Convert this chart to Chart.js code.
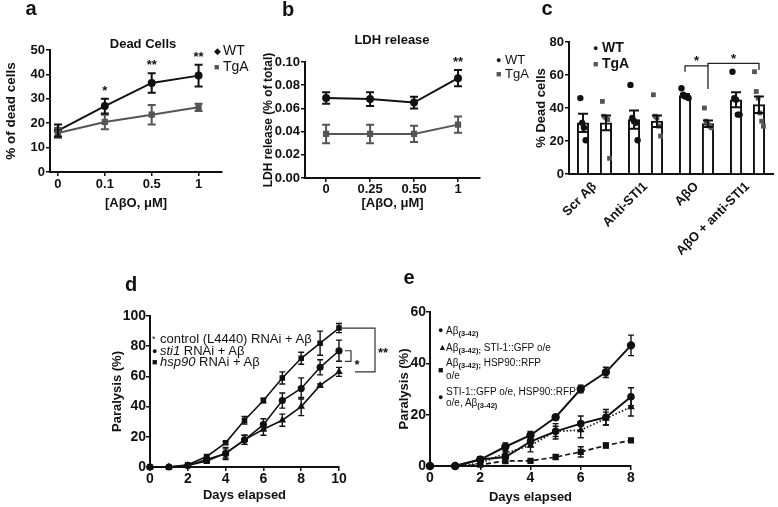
<!DOCTYPE html>
<html>
<head>
<meta charset="utf-8">
<script src="https://cdn.jsdelivr.net/npm/chart.js@4.4.1/dist/chart.umd.min.js"></script>
<style>
  body { margin: 0; background: #fff; }
  #fig { position: relative; width: 778px; height: 507px; overflow: hidden;
         font-family: "Liberation Sans", Arial, sans-serif; color: #111; }
  #fig canvas { position: absolute; }
  .t { position: absolute; white-space: nowrap; line-height: 1; }
  .letter { font-size: 20px; font-weight: bold; transform: translate(-50%, -50%); }
  .ttl { font-size: 13px; font-weight: bold; transform: translate(-50%, -50%); }
  .lg { transform: translateY(-50%); }
  .mk { display: inline-block; width: 9px; font-size: 9px; vertical-align: 1px; }
  sub { font-size: 7.5px; vertical-align: -2px; font-weight: bold; }
</style>
</head>
<body>
<div id="fig">
  <canvas id="chartA" width="245" height="215" style="left:0px;top:0px"></canvas>
  <canvas id="chartB" width="250" height="215" style="left:250px;top:0px"></canvas>
  <canvas id="chartC" width="273" height="280" style="left:505px;top:0px"></canvas>
  <canvas id="chartD" width="300" height="242" style="left:100px;top:265px"></canvas>
  <canvas id="chartE" width="275" height="242" style="left:385px;top:265px"></canvas>

  <div class="t letter" style="left:31px;top:8px">a</div>
  <div class="t letter" style="left:288px;top:8.5px">b</div>
  <div class="t letter" style="left:547px;top:8px">c</div>
  <div class="t letter" style="left:131px;top:283.5px">d</div>
  <div class="t letter" style="left:409px;top:277px">e</div>

  <div class="t ttl" style="left:143px;top:43px">Dead Cells</div>
  <div class="t ttl" style="left:392px;top:39px">LDH release</div>

  <!-- legends -->
  <div class="t lg" style="left:214px;top:50px;font-size:14px"><span class="mk">◆</span>WT</div>
  <div class="t lg" style="left:214px;top:66px;font-size:14px"><span class="mk" style="color:#555">■</span>TgA</div>
  <div class="t lg" style="left:496px;top:59px;font-size:13px"><span class="mk">●</span>WT</div>
  <div class="t lg" style="left:496px;top:73px;font-size:13px"><span class="mk" style="color:#555">■</span>TgA</div>
  <div class="t lg" style="left:593px;top:47px;font-size:14px;font-weight:bold"><span class="mk">●</span>WT</div>
  <div class="t lg" style="left:593px;top:63px;font-size:14px;font-weight:bold"><span class="mk" style="color:#555">■</span>TgA</div>

  <div class="t lg" style="left:152px;top:338px;font-size:13px"><span class="mk" style="width:8px">*</span>control (L4440) RNAi + Aβ</div>
  <div class="t lg" style="left:152px;top:350px;font-size:13px"><span class="mk" style="width:8px">●</span><i>sti1</i> RNAi + Aβ</div>
  <div class="t lg" style="left:152px;top:361px;font-size:13px"><span class="mk" style="width:8px">■</span><i>hsp90</i> RNAi + Aβ</div>

  <div class="t lg" style="left:438px;top:332px;font-size:10px"><span class="mk" style="width:8px">●</span>Aβ<sub>(3-42)</sub></div>
  <div class="t lg" style="left:438px;top:349px;font-size:10px"><span class="mk" style="width:8px">▲</span>Aβ<sub>(3-42);</sub> STI-1::GFP o/e</div>
  <div class="t lg" style="left:446px;top:364px;font-size:10px">Aβ<sub>(3-42);</sub> HSP90::RFP</div>
  <div class="t lg" style="left:446px;top:376px;font-size:10px">o/e</div>
  <div class="t lg" style="left:438px;top:371px;font-size:10px"><span class="mk" style="width:8px">■</span></div>
  <div class="t lg" style="left:446px;top:392px;font-size:10px">STI-1::GFP o/e, HSP90::RFP</div>
  <div class="t lg" style="left:446px;top:404px;font-size:10px">o/e, Aβ<sub>(3-42)</sub></div>
  <div class="t lg" style="left:438px;top:398px;font-size:10px"><span class="mk" style="width:8px">●</span></div>
</div>

<script>
// ---- panel a: dead cells ----
const doseLabelsA = ['0', '0.1', '0.5', '1'];
const deadWT = [17, 27, 36.5, 39.5];
const deadWTErr = [2.5, 3, 4, 4.5];
const deadTgA = [16, 20.5, 23.5, 26.5];
const deadTgAErr = [2, 3, 4, 1.5];
const deadStars = ['', '*', '**', '**'];

// ---- panel b: LDH release ----
const doseLabelsB = ['0', '0.25', '0.50', '1'];
const ldhWT = [0.069, 0.068, 0.065, 0.086];
const ldhWTErr = [0.005, 0.006, 0.005, 0.007];
const ldhTgA = [0.038, 0.038, 0.038, 0.046];
const ldhTgAErr = [0.008, 0.008, 0.007, 0.007];
const ldhStars = ['', '', '', '**'];

// ---- panel c: % dead cells per treatment ----
const groupsC = ['Scr Aβ', 'Anti-STI1', 'AβO', 'AβO + anti-STI1'];
const barWT = [31, 33, 47.5, 45];
const barWTErr = [5.5, 5.5, 1, 4.5];
const barTgA = [31, 32, 30.5, 42];
const barTgAErr = [4.5, 3.5, 2, 5];
const dotsWT = [[46, 31, 28, 20.5], [54, 34, 32, 31, 20.5], [52, 48, 47, 47, 46], [62, 46, 45, 36, 36]];
const dotsTgA = [[44, 35, 34, 33, 9.5], [48, 35, 34, 29, 23], [40, 32, 30, 29, 28], [62, 50, 46, 37, 32, 29]];
// significance brackets: bar = [dataset, group]
const sigC = [
  { from: [0, 2], to: [1, 2], y: 65.5, endFrom: 62, endTo: 51.5, label: '*' },
  { from: [1, 2], to: [1, 3], y: 67, endFrom: 65.5, endTo: 63, label: '*' }
];

// ---- panel d: paralysis with RNAi ----
const daysD = [0, 1, 2, 3, 4, 5, 6, 7, 8, 9, 10];
const controlRNAi = [0, 0, 1, 4, 9, 18, 25, 31, 40, 54, 63];
const controlRNAiErr = [0, 0, 0.5, 1.5, 3, 3, 4, 4, 6, 1, 3];
const sti1RNAi = [0, 0, 1, 5, 9, 18, 28, 44, 52, 66, 77];
const sti1RNAiErr = [0, 0, 0.5, 1.5, 4, 3, 4, 5, 7, 5, 7];
const hsp90RNAi = [0, 0, 1.5, 7, 16, 31, 44, 59, 72, 82, 92];
const hsp90RNAiErr = [0, 0, 0.5, 1, 1, 2.5, 1.5, 4, 4, 8, 3];
const sigD = [
  { top: 92, bottom: 63, label: '**', labelAt: 75 },
  { top: 77, bottom: 70, label: '*', labelAt: 67 }
];

// ---- panel e: paralysis with overexpression ----
const daysE = [0, 1, 2, 3, 4, 5, 6, 7, 8];
const abOnly = [0, 0, 2.5, 7.5, 12, 19, 30, 36.5, 47];
const abOnlyErr = [0, 0.5, 1, 1.5, 1.5, 1, 1.5, 2, 4];
const sti1OE = [0, 0, 1, 5, 8, 13.5, 14, 18.5, 23];
const sti1OEErr = [0, 0, 1, 2, 2.5, 2, 3, 2.5, 3.5];
const hsp90OE = [0, 0, 0.5, 2, 2, 3.5, 5.5, 8, 10];
const hsp90OEErr = [0, 0, 0.5, 1, 0.5, 1, 2, 1, 0.5];
const bothOE = [0, 0, 2.5, 3.5, 9.5, 13.5, 16.5, 19, 27];
const bothOEErr = [0, 0, 1, 2, 2, 3, 3, 3, 3.5];

const ink = '#111';
const grey = '#555';

Chart.defaults.font.family = '"Liberation Sans", Arial, sans-serif';
Chart.defaults.color = ink;
Chart.defaults.animation = false;
Chart.defaults.responsive = false;
Chart.defaults.plugins.legend.display = false;
Chart.defaults.plugins.tooltip.enabled = false;

// error bars + significance stars read from dataset.errors / dataset.stars
const errorBars = {
  id: 'errorBars',
  afterDatasetsDraw(chart) {
    const ctx = chart.ctx;
    chart.data.datasets.forEach((ds, i) => {
      if (!ds.errors) return;
      const meta = chart.getDatasetMeta(i);
      const yScale = chart.scales[meta.yAxisID];
      ctx.save();
      ctx.strokeStyle = ds.errorColor || ds.borderColor;
      ctx.lineWidth = ds.errorWidth || 1.5;
      meta.data.forEach((el, j) => {
        const err = ds.errors[j];
        const v = meta.controller.getParsed(j).y;
        const top = yScale.getPixelForValue(v + err);
        if (err) {
          const bot = yScale.getPixelForValue(v - err);
          const cap = ds.capWidth || 3;
          ctx.beginPath();
          ctx.moveTo(el.x, top); ctx.lineTo(el.x, bot);
          ctx.moveTo(el.x - cap, top); ctx.lineTo(el.x + cap, top);
          ctx.moveTo(el.x - cap, bot); ctx.lineTo(el.x + cap, bot);
          ctx.stroke();
        }
        if (ds.stars && ds.stars[j]) {
          ctx.fillStyle = ink;
          ctx.font = 'bold 13px "Liberation Sans", Arial, sans-serif';
          ctx.textAlign = 'center';
          ctx.textBaseline = 'bottom';
          ctx.fillText(ds.stars[j], el.x, top - 1);
        }
      });
      ctx.restore();
    });
  }
};

function fixWidth(w) { return scale => { scale.width = w; }; }
function fixHeight(h) { return scale => { scale.height = h; }; }

function axis(size, extra) {
  return Object.assign({
    grid: { display: true, drawOnChartArea: false, drawTicks: true, tickLength: 4, color: ink, lineWidth: 1.5 },
    border: { display: true, color: ink, width: 2 },
    ticks: { color: ink, font: { size: size, weight: 'bold' }, padding: 1 }
  }, extra);
}
function axisTitle(text, size, pad) {
  return { display: true, text: text, color: ink, font: { size: size, weight: 'bold' }, padding: pad };
}
function pts(values) { return values.map((y, i) => ({ x: i, y: y })); }
function lineSet(values, errors, color, style, extra) {
  return Object.assign({
    data: pts(values), errors: errors, borderColor: color, backgroundColor: color,
    borderWidth: 2, pointStyle: style, pointRadius: 3, clip: false, errorWidth: 2, capWidth: 4
  }, extra);
}

// ---- a ----
new Chart(document.getElementById('chartA'), {
  type: 'line',
  data: {
    datasets: [
      lineSet(deadTgA, deadTgAErr, grey, 'rect'),
      lineSet(deadWT, deadWTErr, ink, 'circle', { stars: deadStars })
    ]
  },
  options: {
    layout: { padding: { top: 50, right: 23, left: 0, bottom: 0 } },
    scales: {
      x: axis(13, {
        type: 'linear', min: -0.17, max: 3.5, afterFit: fixHeight(43),
        ticks: { stepSize: 1, includeBounds: false, color: ink, font: { size: 13, weight: 'bold' }, padding: 1,
                 callback: v => doseLabelsA[v] !== undefined ? doseLabelsA[v] : '' },
        title: axisTitle('[AβO, μM]', 13, 4)
      }),
      y: axis(13, {
        min: 0, max: 50, afterFit: fixWidth(50),
        ticks: { stepSize: 10, color: ink, font: { size: 13, weight: 'bold' }, padding: 1 },
        title: axisTitle('% of dead cells', 13.5, 3)
      })
    }
  },
  plugins: [errorBars]
});

// ---- b ----
new Chart(document.getElementById('chartB'), {
  type: 'line',
  data: {
    datasets: [
      lineSet(ldhTgA, ldhTgAErr, grey, 'rect'),
      lineSet(ldhWT, ldhWTErr, ink, 'circle', { stars: ldhStars })
    ]
  },
  options: {
    layout: { padding: { top: 62, right: 20, left: 0, bottom: 0 } },
    scales: {
      x: axis(13, {
        type: 'linear', min: -0.48, max: 3.5, afterFit: fixHeight(37),
        ticks: { stepSize: 1, includeBounds: false, color: ink, font: { size: 13, weight: 'bold' }, padding: 0,
                 callback: v => doseLabelsB[v] !== undefined ? doseLabelsB[v] : '' },
        title: axisTitle('[AβO, μM]', 13, 4)
      }),
      y: axis(13, {
        min: 0, max: 0.1, afterFit: fixWidth(55),
        ticks: { stepSize: 0.02, color: ink, font: { size: 13, weight: 'bold' }, padding: 1,
                 callback: v => v.toFixed(2) },
        title: axisTitle('LDH release (% of total)', 12, 11)
      })
    }
  },
  plugins: [errorBars]
});

// ---- c ----
// bars sit on a linear x axis: group g spans [g, g+1], WT left of centre, TgA right
const slotShift = 0.225;
function barPoints(values, side) {
  return values.map((y, g) => ({ x: g + 0.5 + side * slotShift, y: y }));
}
function dotPoints(groups, side) {
  const out = [];
  groups.forEach((vals, g) => {
    vals.forEach((v, k) => {
      const spread = (k - (vals.length - 1) / 2) * 0.035;
      out.push({ x: g + 0.5 + side * slotShift + spread, y: v });
    });
  });
  return out;
}
const sigPlugin = {
  id: 'sigC',
  afterDatasetsDraw(chart) {
    const ctx = chart.ctx, y = chart.scales.y;
    const barX = ref => chart.getDatasetMeta(ref[0]).data[ref[1]].x;
    ctx.save();
    ctx.strokeStyle = '#222';
    ctx.lineWidth = 1.3;
    ctx.fillStyle = ink;
    ctx.font = 'bold 13px "Liberation Sans", Arial, sans-serif';
    ctx.textAlign = 'center';
    ctx.textBaseline = 'bottom';
    sigC.forEach(s => {
      const x0 = barX(s.from), x1 = barX(s.to), yy = y.getPixelForValue(s.y);
      ctx.beginPath();
      ctx.moveTo(x0, y.getPixelForValue(s.endFrom));
      ctx.lineTo(x0, yy); ctx.lineTo(x1, yy);
      ctx.lineTo(x1, y.getPixelForValue(s.endTo));
      ctx.stroke();
      ctx.fillText(s.label, (x0 + x1) / 2, yy + 2);
    });
    ctx.restore();
  }
};
const barStyle = { backgroundColor: '#fff', borderColor: ink, borderWidth: 2, grouped: false,
                   barThickness: 11.5, errorWidth: 2, capWidth: 5, order: 2 };
new Chart(document.getElementById('chartC'), {
  type: 'bar',
  data: {
    datasets: [
      Object.assign({ data: barPoints(barWT, -1), errors: barWTErr }, barStyle),
      Object.assign({ data: barPoints(barTgA, 1), errors: barTgAErr }, barStyle),
      { type: 'scatter', data: dotPoints(dotsWT, -1), pointStyle: 'circle', pointRadius: 3.2,
        backgroundColor: ink, borderColor: ink, borderWidth: 0, order: 0, clip: false },
      { type: 'scatter', data: dotPoints(dotsTgA, 1), pointStyle: 'rect', pointRadius: 3.4,
        backgroundColor: grey, borderColor: grey, borderWidth: 0, order: 0, clip: false }
    ]
  },
  options: {
    layout: { padding: { top: 42, right: 5, left: 0, bottom: 0 } },
    scales: {
      x: {
        type: 'linear', min: 0, max: 4, offset: false, afterFit: fixHeight(106),
        afterBuildTicks: scale => { scale.ticks = groupsC.map((_, g) => ({ value: g + 0.5 })); },
        grid: { display: true, drawOnChartArea: false, drawTicks: false, offset: false },
        border: { display: true, color: ink, width: 2 },
        ticks: { color: ink, font: { size: 13, weight: 'bold' }, minRotation: 45, maxRotation: 45,
                 autoSkip: false, padding: 5, callback: (v, i) => groupsC[i] }
      },
      y: axis(13, {
        min: 0, max: 80, afterFit: fixWidth(64),
        ticks: { stepSize: 20, color: ink, font: { size: 13, weight: 'bold' }, padding: 1 },
        title: axisTitle('% Dead cells', 13, 29)
      })
    }
  },
  plugins: [errorBars, sigPlugin]
});

// ---- d ----
const sigDPlugin = {
  id: 'sigD',
  afterDatasetsDraw(chart) {
    const ctx = chart.ctx, y = chart.scales.y, r = chart.chartArea.right;
    const big = sigD[0], small = sigD[1];
    ctx.save();
    ctx.strokeStyle = '#333';
    ctx.lineWidth = 1.2;
    ctx.beginPath();
    ctx.moveTo(r + 3, y.getPixelForValue(big.top));
    ctx.lineTo(r + 36, y.getPixelForValue(big.top));
    ctx.lineTo(r + 36, y.getPixelForValue(big.bottom));
    ctx.lineTo(r + 16, y.getPixelForValue(big.bottom));
    ctx.moveTo(r + 6, y.getPixelForValue(small.top));
    ctx.lineTo(r + 12, y.getPixelForValue(small.top));
    ctx.lineTo(r + 12, y.getPixelForValue(small.bottom));
    ctx.lineTo(r + 6, y.getPixelForValue(small.bottom));
    ctx.stroke();
    ctx.fillStyle = ink;
    ctx.font = 'bold 13px "Liberation Sans", Arial, sans-serif';
    ctx.textAlign = 'center';
    ctx.textBaseline = 'middle';
    ctx.fillText(big.label, r + 44, y.getPixelForValue(big.labelAt));
    ctx.fillText(small.label, r + 18, y.getPixelForValue(small.labelAt));
    ctx.restore();
  }
};
function daySet(days, values, errors, style, extra) {
  return Object.assign({
    data: values.map((v, i) => ({ x: days[i], y: v })), errors: errors,
    borderColor: ink, backgroundColor: ink, borderWidth: 1.6, pointStyle: style, pointRadius: 2.8,
    clip: false, errorWidth: 1.4, capWidth: 3
  }, extra);
}
new Chart(document.getElementById('chartD'), {
  type: 'line',
  data: {
    datasets: [
      daySet(daysD, controlRNAi, controlRNAiErr, 'triangle'),
      daySet(daysD, sti1RNAi, sti1RNAiErr, 'circle'),
      daySet(daysD, hsp90RNAi, hsp90RNAiErr, 'rect')
    ]
  },
  options: {
    layout: { padding: { top: 51, right: 61, left: 0, bottom: 0 } },
    scales: {
      x: axis(14, {
        type: 'linear', min: 0, max: 10, afterFit: fixHeight(40),
        ticks: { stepSize: 2, color: ink, font: { size: 14, weight: 'bold' }, padding: 0 },
        title: axisTitle('Days elapsed', 13, 4)
      }),
      y: axis(14, {
        min: 0, max: 100, afterFit: fixWidth(50),
        ticks: { stepSize: 20, color: ink, font: { size: 14, weight: 'bold' }, padding: 0 },
        title: axisTitle('Paralysis (%)', 13, 10)
      })
    }
  },
  plugins: [errorBars, sigDPlugin]
});

// ---- e ----
new Chart(document.getElementById('chartE'), {
  type: 'line',
  data: {
    datasets: [
      daySet(daysE, hsp90OE, hsp90OEErr, 'rect', { borderDash: [5, 3], pointRadius: 3.2 }),
      daySet(daysE, sti1OE, sti1OEErr, 'triangle', { borderDash: [1.5, 2] }),
      daySet(daysE, bothOE, bothOEErr, 'circle', { borderWidth: 2 }),
      daySet(daysE, abOnly, abOnlyErr, 'circle', { borderWidth: 2, pointRadius: 3.2 })
    ]
  },
  options: {
    layout: { padding: { top: 47, right: 29, left: 0, bottom: 0 } },
    scales: {
      x: axis(14, {
        type: 'linear', min: 0, max: 8, afterFit: fixHeight(41),
        ticks: { stepSize: 2, color: ink, font: { size: 14, weight: 'bold' }, padding: 0 },
        title: axisTitle('Days elapsed', 13, 2)
      }),
      y: axis(14, {
        min: 0, max: 60, afterFit: fixWidth(45),
        ticks: { stepSize: 20, color: ink, font: { size: 14, weight: 'bold' }, padding: 0 },
        title: axisTitle('Paralysis (%)', 13, 12)
      })
    }
  },
  plugins: [errorBars]
});
</script>
</body>
</html>
